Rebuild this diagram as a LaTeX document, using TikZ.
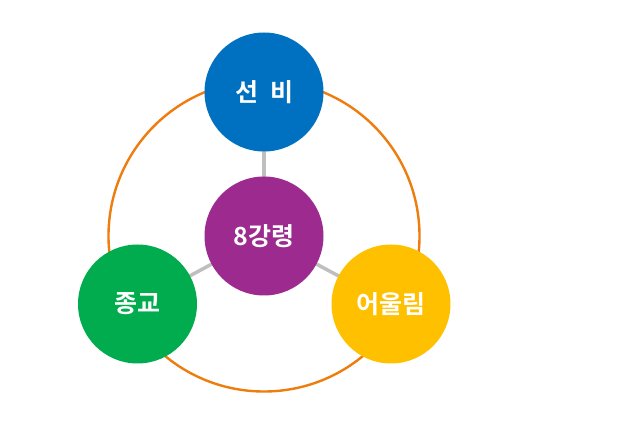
\documentclass[tikz,border=0pt]{standalone}
\usepackage{fontspec}
\newfontfamily\kr{Noto Sans CJK KR}[BoldFont={Noto Sans CJK KR Bold}]
\definecolor{cblue}{HTML}{0070C0}
\definecolor{cpurple}{HTML}{9C2A8F}
\definecolor{cgreen}{HTML}{00AC4E}
\definecolor{cyellow}{HTML}{FFC000}
\definecolor{corange}{HTML}{EE7D0E}
\definecolor{cgray}{HTML}{BFBFBF}
\begin{document}
\begin{tikzpicture}[x=1pt,y=-1pt,
  ball/.style={circle,minimum size=119pt,inner sep=0pt,text=white,font=\kr\bfseries\fontsize{25}{28}\selectfont},
  link/.style={cgray,line width=3.5pt}]
\useasboundingbox (0,0) rectangle (640,435);
\node[circle,draw=corange,line width=2.4pt,minimum size=311pt,inner sep=0pt] (ring) at (264,236) {};
\coordinate (c) at (264,236);
\coordinate (t) at (264,92);
\coordinate (l) at (137.5,304);
\coordinate (r) at (391,304);
\draw[link] (c) -- (t);
\draw[link] (c) -- (l);
\draw[link] (c) -- (r);
\node[ball,fill=cpurple] (center) at (c) {8강령};
\node[ball,fill=cblue] (top) at (t) {선\hspace{12pt}비};
\node[ball,fill=cgreen] (left) at (l) {종교};
\node[ball,fill=cyellow] (right) at (r) {어울림};
\end{tikzpicture}
\end{document}
